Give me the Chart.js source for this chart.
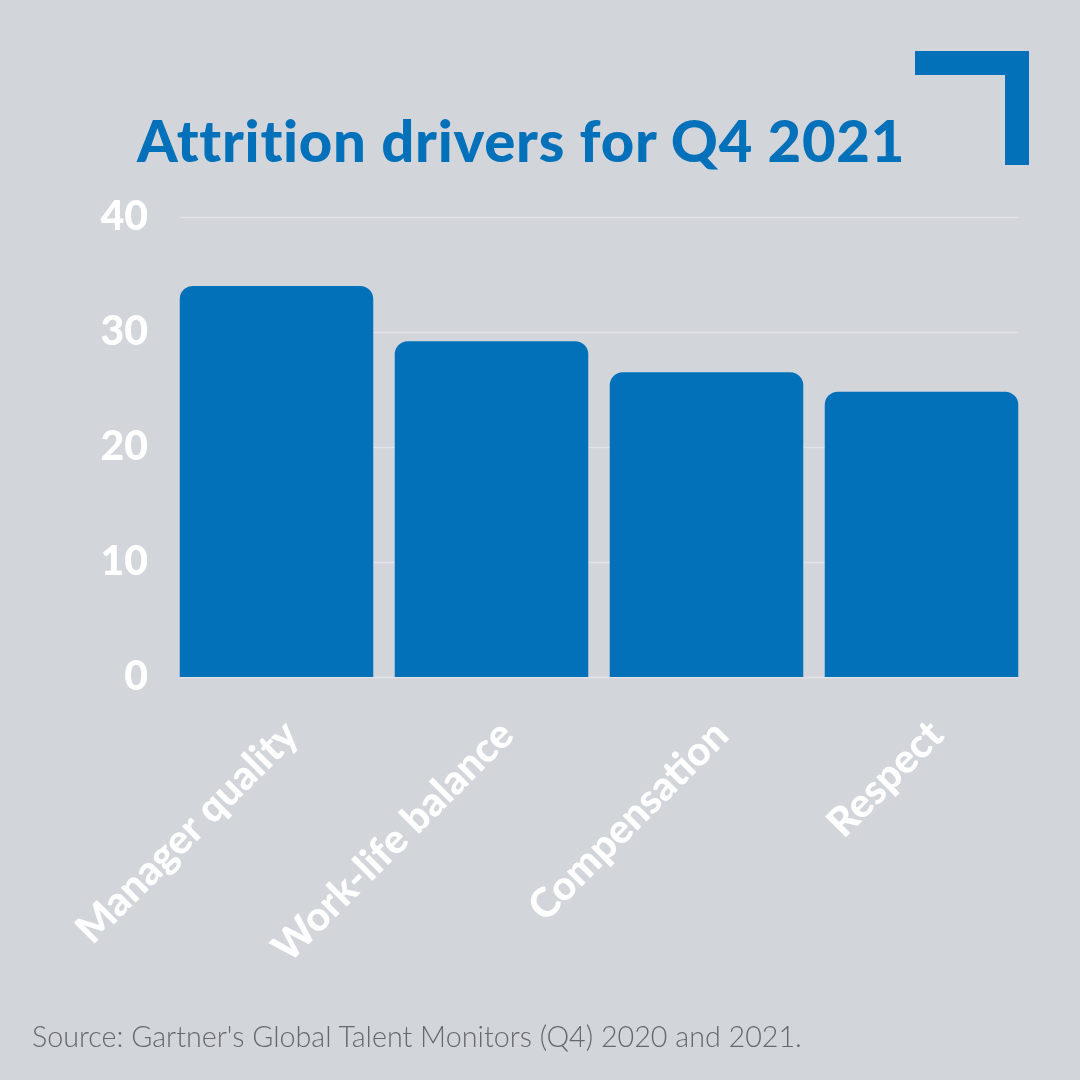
<!DOCTYPE html>
<html>
<head>
<meta charset="utf-8">
<script src="https://cdn.jsdelivr.net/npm/chart.js@4.4.1/dist/chart.umd.min.js"></script>
<style>
  html, body { margin: 0; padding: 0; background: #d2d5da; }
  #wrap { position: relative; width: 1080px; height: 1080px; background: #d2d5da; overflow: hidden; }
  #chart { position: absolute; left: 0; top: 0; }
  #title { position: absolute; left: 137px; top: 105px; font-family: 'Lato', sans-serif; font-weight: 900; font-size: 58px; color: #0271b9; white-space: nowrap; letter-spacing: 0.75px; font-variant-ligatures: none; font-feature-settings: "liga" 0; }
  #source { position: absolute; left: 32px; top: 1019px; font-family: 'Lato', sans-serif; font-weight: 300; font-size: 28.7px; color: #65686d; white-space: nowrap; }
  .br { position: absolute; background: #0271b9; }
</style>
</head>
<body>
<div id="wrap">
  <canvas id="chart" width="1080" height="1080"></canvas>
  <div id="title">Attrition drivers for Q4 2021</div>
  <div id="source">Source: Gartner's Global Talent Monitors (Q4) 2020 and 2021.</div>
  <div class="br" style="left:915px; top:51px; width:114px; height:24px;"></div>
  <div class="br" style="left:1005px; top:51px; width:24px; height:114px;"></div>
</div>
<script>
const categories = ["Manager quality", "Work-life balance", "Compensation", "Respect"];
const values = [34.0, 29.2, 26.5, 24.8];
const yTicks = [0, 10, 20, 30, 40];

// gridlines drawn across the span of the bars only (from first bar's left edge to last bar's right edge)
const gridPlugin = {
  id: 'barSpanGrid',
  beforeDatasetsDraw(chart) {
    const meta = chart.getDatasetMeta(0);
    const first = meta.data[0], last = meta.data[meta.data.length - 1];
    const x0 = first.x - first.width / 2, x1 = last.x + last.width / 2;
    const y = chart.scales.y;
    const c = chart.ctx;
    c.save();
    c.strokeStyle = '#e1e4e7';
    c.lineWidth = 1.5;
    y.ticks.forEach(t => {
      const py = Math.round(y.getPixelForValue(t.value)) + 0.5;
      c.beginPath(); c.moveTo(x0, py); c.lineTo(x1, py); c.stroke();
    });
    c.restore();
  }
};

const ctx = document.getElementById('chart').getContext('2d');
new Chart(ctx, {
  type: 'bar',
  data: {
    labels: categories,
    datasets: [{
      data: values,
      backgroundColor: '#0271b9',
      borderRadius: { topLeft: 13, topRight: 13, bottomLeft: 0, bottomRight: 0 },
      borderSkipped: 'bottom',
      barPercentage: 0.9,
      categoryPercentage: 1.0
    }]
  },
  plugins: [gridPlugin],
  options: {
    responsive: false,
    animation: false,
    devicePixelRatio: 1,
    layout: { padding: { top: 217, right: 51, bottom: 0, left: 0 } },
    plugins: { legend: { display: false }, tooltip: { enabled: false }, title: { display: false } },
    scales: {
      x: {
        grid: { display: false, drawTicks: false },
        border: { display: false },
        ticks: {
          color: '#ffffff',
          font: { family: 'Lato', weight: '900', size: 40.5 },
          maxRotation: 45, minRotation: 45,
          padding: 34,
          labelOffset: 15,
          autoSkip: false
        },
        afterFit: (s) => { s.height = 1080 - 677; }
      },
      y: {
        min: 0, max: 40,
        afterBuildTicks: (s) => { s.ticks = yTicks.map(v => ({ value: v })); },
        grid: { display: false, drawTicks: false },
        border: { display: false },
        ticks: {
          color: '#ffffff',
          font: { family: 'Lato', weight: '900', size: 41 },
          padding: 21
        },
        afterFit: (s) => { s.width = 169; }
      }
    }
  }
});
</script>
</body>
</html>
